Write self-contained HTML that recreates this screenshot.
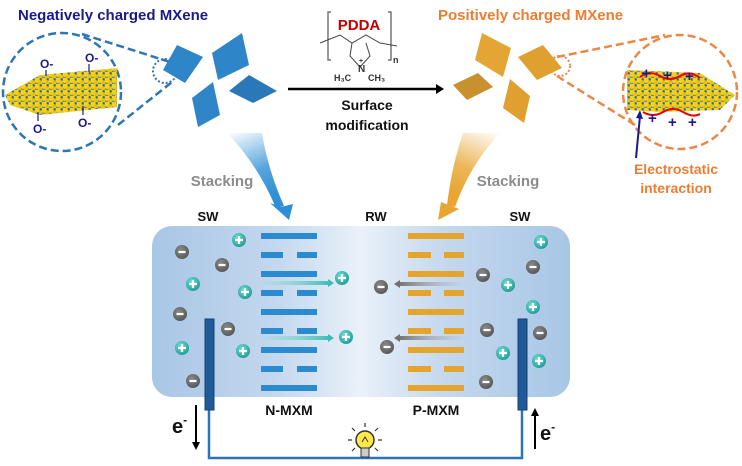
<!DOCTYPE html>
<html><head><meta charset="utf-8"><style>
html,body{margin:0;padding:0;background:#fff}
svg{display:block}
text{font-family:"Liberation Sans",Arial,sans-serif;font-weight:bold}
</style></head><body>
<svg width="742" height="466" viewBox="0 0 742 466" xmlns="http://www.w3.org/2000/svg">
<defs>
<linearGradient id="bg" x1="0" x2="1" y1="0" y2="0">
<stop offset="0" stop-color="#a8c6e6"/><stop offset="0.3" stop-color="#c4d8ee"/><stop offset="0.5" stop-color="#eaf1f9"/><stop offset="0.7" stop-color="#c4d8ee"/><stop offset="1" stop-color="#a8c6e6"/>
</linearGradient>
<linearGradient id="ta" x1="0" x2="1"><stop offset="0" stop-color="#7ddbd3" stop-opacity="0"/><stop offset="1" stop-color="#3cbdb2"/></linearGradient>
<linearGradient id="ga" x1="1" x2="0"><stop offset="0" stop-color="#bbbbbb" stop-opacity="0"/><stop offset="1" stop-color="#707070"/></linearGradient>
<linearGradient id="bf" x1="0" y1="0" x2="0.3" y2="1"><stop offset="0" stop-color="#2e8fd6" stop-opacity="0"/><stop offset="0.6" stop-color="#2e8fd6" stop-opacity="0.8"/><stop offset="1" stop-color="#2e8fd6"/></linearGradient>
<linearGradient id="of" x1="1" y1="0" x2="0.7" y2="1"><stop offset="0" stop-color="#e8a530" stop-opacity="0"/><stop offset="0.6" stop-color="#e8a530" stop-opacity="0.8"/><stop offset="1" stop-color="#e8a530"/></linearGradient>
<pattern id="dots" width="7" height="6" patternUnits="userSpaceOnUse">
<rect width="7" height="6" fill="#6f8f8a"/>
<circle cx="2" cy="2" r="2.9" fill="#f7d21a"/><circle cx="5.5" cy="5" r="2.6" fill="#ebc400"/>
<circle cx="5.5" cy="1.5" r="0.9" fill="#2a5f98"/>
</pattern>
<radialGradient id="ion" cx="0.4" cy="0.35" r="0.7"><stop offset="0" stop-color="#6fe0d6"/><stop offset="1" stop-color="#1e9a90"/></radialGradient>
<radialGradient id="ionm" cx="0.4" cy="0.35" r="0.7"><stop offset="0" stop-color="#8a8a8a"/><stop offset="1" stop-color="#555"/></radialGradient>
<g id="p"><circle r="7" fill="url(#ion)"/><path d="M-4 0H4M0 -4V4" stroke="#fff" stroke-width="2.2"/></g>
<g id="m"><circle r="7" fill="url(#ionm)"/><path d="M-3.5 0H3.5" stroke="#fff" stroke-width="2.2"/></g>
</defs>

<!-- Top left -->
<text x="18" y="20" font-size="15" fill="#1a1a8c">Negatively charged MXene</text>
<circle cx="62" cy="92" r="59" fill="none" stroke="#2e75b6" stroke-width="2.5" stroke-dasharray="8 4"/>
<path d="M82 34 L170 62 M118 125 L172 82" stroke="#2e75b6" stroke-width="2.5" stroke-dasharray="8 4"/>
<circle cx="165" cy="71" r="12" fill="none" stroke="#2e75b6" stroke-width="2" stroke-dasharray="2 2"/>
<path d="M5 95 L40 75 L117 68 L117 107 L40 115 L10 105 Z" fill="url(#dots)"/>
<g fill="#1a1a8c" font-size="12"><text x="40" y="68" font-weight="normal">O-</text><text x="85" y="62" font-weight="normal">O-</text><text x="33" y="133" font-weight="normal">O-</text><text x="78" y="127" font-weight="normal">O-</text></g>
<path d="M46 70V76 M89 64V72 M38 112V121 M83 106V115" stroke="#1a1a8c" stroke-width="1.2"/>
<g fill="#2e86c8">
<polygon points="163,70 177,45 203,57 185,83"/>
<polygon points="212,53 242,33 249,65 218,80"/>
<polygon points="192,98 213,82 220,115 198,127"/>
<polygon points="229,91 249,75 277,91 253,103" fill="#2a78b8"/>
</g>

<!-- PDDA -->
<path d="M331 12H328V60H331 M388 12H391V60H388" stroke="#555" fill="none" stroke-width="1.2"/>
<text x="359" y="30" font-size="15" fill="#c00000" text-anchor="middle">PDDA</text>
<path d="M320 43 L340 35 L352 43 L366 35 L380 43 L397 46 M352 43 L350 56 L360 67 L370 56 L366 43" stroke="#444" fill="none" stroke-width="1"/>
<text x="359" y="63" font-size="7" font-weight="normal" fill="#333">+</text>
<text x="358" y="72" font-size="10" font-weight="normal" fill="#333">N</text>
<text x="334" y="81" font-size="9" font-weight="normal" fill="#333">H₃C</text>
<text x="368" y="81" font-size="9" font-weight="normal" fill="#333">CH₃</text>
<text x="393" y="63" font-size="9" font-weight="normal" fill="#333">n</text>
<path d="M288 89H436" stroke="#000" stroke-width="2.5"/><polygon points="436,84 444,89 436,94" fill="#000"/>
<text x="367" y="110" font-size="14" text-anchor="middle" fill="#111">Surface</text>
<text x="367" y="130" font-size="14" text-anchor="middle" fill="#111">modification</text>

<!-- Top right -->
<text x="438" y="20" font-size="15" fill="#ed7d31">Positively charged MXene</text>
<circle cx="680" cy="92" r="57" fill="none" stroke="#e8894a" stroke-width="2.5" stroke-dasharray="8 4"/>
<path d="M557 57 L665 35 M557 76 L635 125" stroke="#e8894a" stroke-width="2.5" stroke-dasharray="8 4"/>
<circle cx="560" cy="66" r="10" fill="none" stroke="#e8894a" stroke-width="2" stroke-dasharray="2 2"/>
<path d="M627 70 L700 73 L735 95 L720 110 L660 112 L627 110 Z" fill="url(#dots)"/>
<path d="M640 77 Q650 70 660 76 T680 76 T700 78" stroke="#e00" stroke-width="2" fill="none"/>
<path d="M643 112 Q653 118 663 112 T683 112 T700 114" stroke="#e00" stroke-width="2" fill="none"/>
<g fill="#1a1a8c" font-size="15"><text x="642" y="78">+</text><text x="663" y="80">+</text><text x="685" y="81">+</text><text x="648" y="123">+</text><text x="668" y="127">+</text><text x="688" y="127">+</text></g>
<path d="M636 158 L640 116" stroke="#1a1a8c" stroke-width="2"/><polygon points="636,118 640,110 643,119" fill="#1a1a8c"/>
<text x="676" y="174" font-size="14" text-anchor="middle" fill="#ed7d31">Electrostatic</text>
<text x="676" y="193" font-size="14" text-anchor="middle" fill="#ed7d31">interaction</text>
<g fill="#e0a030">
<polygon points="475,60 482,33 511,48 503,77" fill="#e3a634"/>
<polygon points="518,57 543,45 562,68 537,80"/>
<polygon points="453,85 478,73 493,87 467,100" fill="#c8902e"/>
<polygon points="503,108 510,79 530,96 524,123"/>
</g>

<!-- Stacking funnels -->
<path d="M227 133 L262 133 Q268 170 284 206 L276 208 Q258 165 227 133 Z" fill="url(#bf)"/>
<polygon points="270,203 281,207 293,204 289,220" fill="#2e8fd6"/>
<path d="M463 133 L500 133 Q470 165 455 207 L447 205 Q452 165 463 133 Z" fill="url(#of)"/>
<polygon points="441,202 451,206 459,209 438,220" fill="#e8a530"/>
<text x="222" y="186" font-size="15" text-anchor="middle" fill="#8c8c8c">Stacking</text>
<text x="508" y="186" font-size="15" text-anchor="middle" fill="#8c8c8c">Stacking</text>

<!-- Cell -->
<text x="208" y="221" font-size="13" text-anchor="middle" fill="#111">SW</text>
<text x="376" y="221" font-size="13" text-anchor="middle" fill="#111">RW</text>
<text x="520" y="221" font-size="13" text-anchor="middle" fill="#111">SW</text>
<rect x="152" y="226" width="418" height="171" rx="20" fill="url(#bg)"/>
<g fill="#2a8bd0">
<rect x="261" y="233" width="56" height="6"/><rect x="261" y="252" width="22" height="6"/><rect x="297" y="252" width="20" height="6"/>
<rect x="261" y="271" width="56" height="6"/><rect x="261" y="290" width="22" height="6"/><rect x="297" y="290" width="20" height="6"/>
<rect x="261" y="309" width="56" height="6"/><rect x="261" y="328" width="22" height="6"/><rect x="297" y="328" width="20" height="6"/>
<rect x="261" y="347" width="56" height="6"/><rect x="261" y="366" width="22" height="6"/><rect x="297" y="366" width="20" height="6"/>
<rect x="261" y="385" width="56" height="6"/>
</g>
<g fill="#e4a42e">
<rect x="408" y="233" width="56" height="6"/><rect x="408" y="252" width="23" height="6"/><rect x="444" y="252" width="20" height="6"/>
<rect x="408" y="271" width="56" height="6"/><rect x="408" y="290" width="23" height="6"/><rect x="444" y="290" width="20" height="6"/>
<rect x="408" y="309" width="56" height="6"/><rect x="408" y="328" width="23" height="6"/><rect x="444" y="328" width="20" height="6"/>
<rect x="408" y="347" width="56" height="6"/><rect x="408" y="366" width="23" height="6"/><rect x="444" y="366" width="20" height="6"/>
<rect x="408" y="385" width="56" height="6"/>
</g>
<rect x="256" y="281" width="74" height="4" fill="url(#ta)"/><polygon points="328,279 334,283 328,287" fill="#3cbdb2"/>
<rect x="256" y="336" width="74" height="4" fill="url(#ta)"/><polygon points="328,334 334,338 328,342" fill="#3cbdb2"/>
<rect x="398" y="282" width="72" height="4" fill="url(#ga)"/><polygon points="400,280 394,284 400,288" fill="#707070"/>
<rect x="398" y="336" width="72" height="4" fill="url(#ga)"/><polygon points="400,334 394,338 400,342" fill="#707070"/>
<use href="#p" x="342" y="278"/><use href="#p" x="346" y="337"/>
<use href="#m" x="381" y="287"/><use href="#m" x="387" y="347"/>
<use href="#p" x="239" y="240"/><use href="#m" x="182" y="252"/><use href="#m" x="222" y="265"/><use href="#p" x="193" y="284"/><use href="#p" x="245" y="292"/><use href="#m" x="180" y="314"/><use href="#m" x="228" y="329"/><use href="#p" x="182" y="348"/><use href="#p" x="243" y="351"/><use href="#m" x="193" y="381"/>
<use href="#p" x="541" y="242"/><use href="#m" x="533" y="267"/><use href="#m" x="483" y="275"/><use href="#p" x="508" y="285"/><use href="#p" x="533" y="307"/><use href="#m" x="487" y="330"/><use href="#m" x="540" y="333"/><use href="#p" x="503" y="353"/><use href="#p" x="539" y="361"/><use href="#m" x="486" y="382"/>
<!-- electrodes & wire -->
<path d="M209 410V458H522V410" stroke="#2e75b6" stroke-width="2.5" fill="none"/>
<rect x="205" y="319" width="9" height="91" fill="#1f5a9a" stroke="#16406e" stroke-width="1"/>
<rect x="518" y="319" width="9" height="91" fill="#1f5a9a" stroke="#16406e" stroke-width="1"/>
<text x="289" y="415" font-size="14" text-anchor="middle" fill="#111">N-MXM</text>
<text x="436" y="415" font-size="14" text-anchor="middle" fill="#111">P-MXM</text>
<text x="172" y="433" font-size="20" fill="#111">e<tspan font-size="12" dy="-9">-</tspan></text>
<path d="M196 405V444" stroke="#000" stroke-width="2"/><polygon points="192,442 196,450 200,442" fill="#000"/>
<text x="540" y="440" font-size="20" fill="#111">e<tspan font-size="12" dy="-9">-</tspan></text>
<path d="M535 449V414" stroke="#000" stroke-width="2"/><polygon points="531,416 535,408 539,416" fill="#000"/>
<!-- bulb -->
<g transform="translate(365,440)">
<circle r="9" fill="#ffe84a" stroke="#333" stroke-width="1.5"/>
<rect x="-4" y="8" width="8" height="9" fill="#ccc" stroke="#333" stroke-width="1"/>
<path d="M-3 2 L0 -3 L3 2" stroke="#333" fill="none" stroke-width="1"/>
<path d="M0 -13V-17 M-10 -9L-13 -12 M10 -9L13 -12 M-13 0H-17 M13 0H17 M-10 8L-13 11 M10 8L13 11" stroke="#333" stroke-width="1.2"/>
</g>
</svg>
</body></html>
